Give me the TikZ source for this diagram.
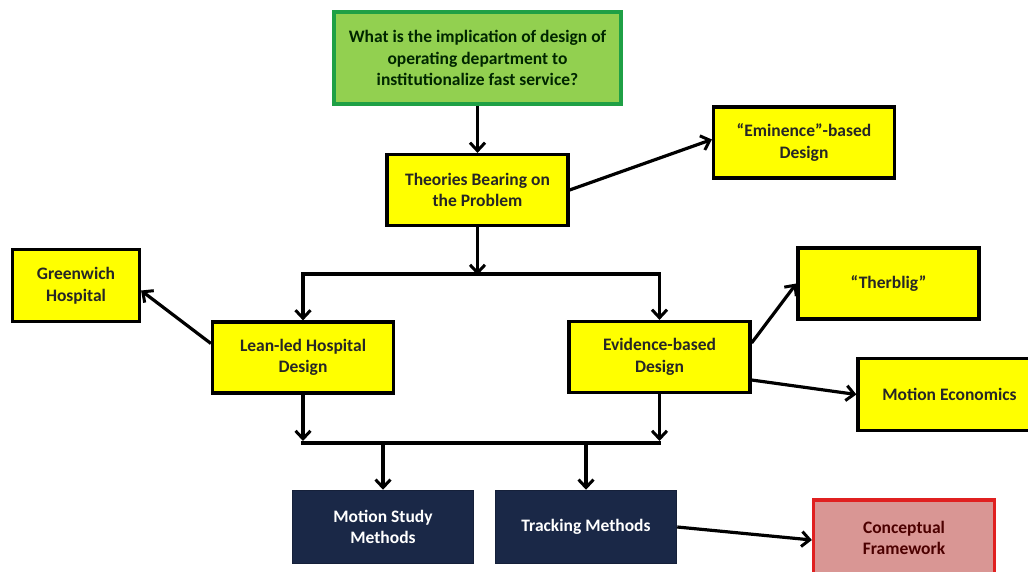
\documentclass[tikz,border=0pt]{standalone}
\usepackage{fontspec}
\setmainfont{Carlito}
\usetikzlibrary{arrows.meta,calc}
\definecolor{qgreen}{HTML}{92D050}
\definecolor{qborder}{HTML}{1FA045}
\definecolor{navy}{HTML}{1A2847}
\definecolor{pinkfill}{HTML}{D99694}
\definecolor{redborder}{HTML}{E02020}
\definecolor{darktext}{HTML}{262626}
\definecolor{yfill}{HTML}{FFFF00}
\tikzset{
  x=1pt, y=1pt,
  base/.style={rectangle, line width=3.2pt, align=center, font=\fontsize{17.5}{21.5}\selectfont\bfseries, inner sep=2pt},
  ybox/.style={base, draw=black, fill=yfill, text=darktext, minimum width=181pt, minimum height=71pt},
  qbox/.style={base, draw=qborder, fill=qgreen, text=black!85!green, minimum width=287pt, minimum height=92pt},
  nbox/.style={base, draw=navy!80!black, fill=navy, text=white, minimum width=181pt, minimum height=73pt, line width=1.5pt},
  pbox/.style={base, draw=redborder, fill=pinkfill, text=black!70!red, minimum width=181pt, minimum height=76pt},
  conn/.style={line width=3.2pt, draw=black},
  arr/.style={conn, -{Straight Barb[length=8pt,width=15pt,line width=3pt]}},
}
\begin{document}
\begin{tikzpicture}
\useasboundingbox (0,0) rectangle (1028,-572);
\clip (0,0) rectangle (1028,-572);
\fill[white] (0,0) rectangle (1028,-572);

\node[qbox] (q) at (477.5,-58) {What is the implication of design of\\operating department to\\institutionalize fast service?};
\node[ybox] (th) at (477.5,-190) {Theories Bearing on\\the Problem};
\node[ybox] (em) at (804,-142.5) {``Eminence''-based\\Design};
\node[ybox, minimum width=127pt, minimum height=72pt] (gw) at (76,-285.5) {Greenwich\\Hospital};
\node[ybox] (lean) at (303,-357.5) {Lean-led Hospital\\Design};
\node[ybox] (ev) at (659.5,-357) {Evidence-based\\Design};
\node[ybox] (tb) at (888.5,-283.5) {``Therblig''};
\node[ybox, minimum width=183pt, minimum height=72pt] (me) at (949.5,-394.5) {Motion Economics};
\node[nbox] (ms) at (383,-527) {Motion Study\\Methods};
\node[nbox] (tr) at (586,-527) {Tracking Methods};
\node[pbox] (cf) at (904,-538) {Conceptual\\Framework};

\coordinate (j1) at (477.5,-274);
\coordinate (j2) at (480,-443);

% top
\draw[arr] (q.south) -- (th.north);
\draw[arr] (th.east) -- ([yshift=3pt]em.west);
\draw[arr] (th.south) -- ([yshift=-1pt]j1);
\draw[conn] ([xshift=-1.6pt]lean.north |- j1) -- ([xshift=1.6pt]ev.north |- j1);
\draw[arr] (lean.north |- j1) -- (lean.north);
\draw[arr] (ev.north |- j1) -- (ev.north);
\draw[arr] ([yshift=14pt]lean.west) -- ([yshift=-5pt]gw.east);
\draw[arr] ([yshift=14pt]ev.east) -- (tb.west);
\draw[arr] ([yshift=-23pt]ev.east) -- (me.west);

% bottom
\draw[arr] (lean.south) -- ([yshift=2pt]lean.south |- j2);
\draw[arr] (ev.south) -- ([yshift=2pt]ev.south |- j2);
\draw[conn] ([xshift=-1.6pt]lean.south |- j2) -- ([xshift=1.6pt]ev.south |- j2);
\draw[arr] (ms.north |- j2) -- (ms.north);
\draw[arr] (tr.north |- j2) -- (tr.north);
\draw[arr] (tr.east) -- ([yshift=-2pt]cf.west);
\end{tikzpicture}
\end{document}
